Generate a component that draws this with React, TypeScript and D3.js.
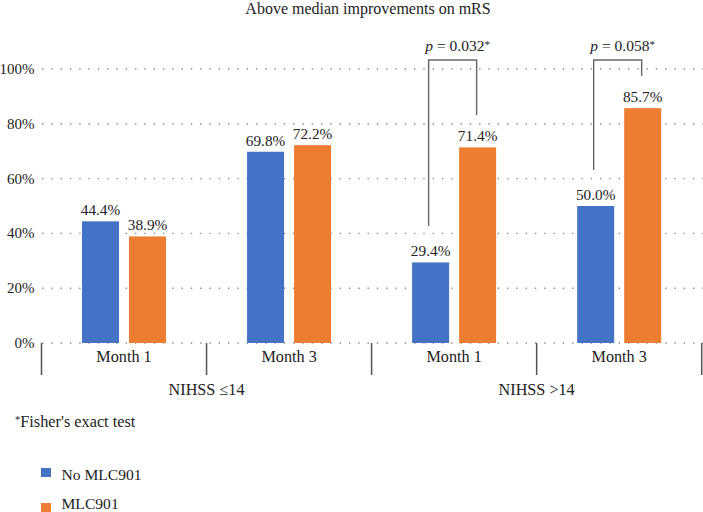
import React from "react";
import * as d3 from "d3";

const categories = ["Month 1", "Month 3", "Month 1", "Month 3"];
const groups = ["NIHSS \u226414", "NIHSS >14"];
const seriesNames = ["No MLC901", "MLC901"];
const noMLC = [44.4, 69.8, 29.4, 50.0];
const withMLC = [38.9, 72.2, 71.4, 85.7];
const yTicks = [0, 20, 40, 60, 80, 100];
// p-value brackets: category index, label, top (%), left foot (%), right foot (%)
const bracketCats = [2, 3];
const bracketLabels = ["0.032", "0.058"];
const bracketTop = [103.3, 103.3];
const bracketLeftFoot = [42.7, 63.1];
const bracketRightFoot = [83.2, 97.4];

const W = 703;
const H = 512;
const FONT = '"Liberation Serif", "DejaVu Serif", serif';
const COLORS = ["#4472C4", "#ED7D31"];
const TEXT = "#222";

export default function App() {
  const x = d3.scaleBand<number>().domain(d3.range(categories.length)).range([41.5, 701.7]).padding(0);
  const inner = d3
    .scaleBand<number>()
    .domain([0, 1])
    .range([0, x.bandwidth()])
    .paddingInner(10 / 47)
    .paddingOuter(0.8617);
  const y = d3.scaleLinear().domain([0, 100]).range([343, 69]);
  const series = [noMLC, withMLC];
  const fmt = (v: number) => v.toFixed(1) + "%";

  return (
    <svg
      width={W}
      height={H}
      style={{ position: "absolute", left: 0, top: 0, background: "#fff", fontFamily: FONT }}
    >
      <text x={368} y={14} textAnchor="middle" fontSize={16} fill={TEXT}>
        Above median improvements on mRS
      </text>
      {yTicks.map((t) => (
        <g key={t}>
          <line
            x1={42}
            x2={W}
            y1={y(t)}
            y2={y(t)}
            stroke="#8a8a8a"
            strokeWidth={1.4}
            strokeDasharray="1.4 7.9"
          />
          <text x={34.5} y={y(t) + 5} textAnchor="end" fontSize={15} fill={TEXT}>
            {t}%
          </text>
        </g>
      ))}
      {series.map((vals, si) =>
        vals.map((v, ci) => {
          const bx = (x(ci) as number) + (inner(si) as number);
          return (
            <g key={`${si}-${ci}`}>
              <rect
                x={bx}
                y={y(v)}
                width={inner.bandwidth()}
                height={y(0) - y(v)}
                fill={COLORS[si]}
              />
              <text
                x={bx + inner.bandwidth() / 2}
                y={y(v) - 6}
                textAnchor="middle"
                fontSize={15.3}
                fill={TEXT}
              >
                {fmt(v)}
              </text>
            </g>
          );
        })
      )}
      {d3.range(categories.length + 1).map((i) => {
        const xx = i < categories.length ? (x(i) as number) : x.range()[1];
        return (
          <line key={i} x1={xx} x2={xx} y1={343} y2={375} stroke="#555" strokeWidth={1.5} />
        );
      })}
      {categories.map((c, i) => (
        <text
          key={i}
          x={(x(i) as number) + x.bandwidth() / 2}
          y={361.5}
          textAnchor="middle"
          fontSize={16.2}
          fill={TEXT}
        >
          {c}
        </text>
      ))}
      {groups.map((g, gi) => (
        <text
          key={g}
          x={x(gi * 2 + 1) as number}
          y={395}
          textAnchor="middle"
          fontSize={16.2}
          fill={TEXT}
        >
          {g}
        </text>
      ))}
      {bracketCats.map((ci, bi) => {
        const xl = (x(ci) as number) + (inner(0) as number) + inner.bandwidth() / 2 - 2;
        const xr = (x(ci) as number) + (inner(1) as number) + inner.bandwidth() / 2 - 1;
        const yt = y(bracketTop[bi]);
        return (
          <g key={bi}>
            <path
              d={`M${xl},${y(bracketLeftFoot[bi])}V${yt}H${xr}V${y(bracketRightFoot[bi])}`}
              fill="none"
              stroke="#666"
              strokeWidth={1.4}
            />
            <text x={(xl + xr) / 2 + 5} y={51} textAnchor="middle" fontSize={15.5} fill={TEXT}>
              <tspan fontStyle="italic">p</tspan>
              <tspan> = {bracketLabels[bi]}</tspan>
              <tspan fontSize={11} dy={-3}>*</tspan>
            </text>
          </g>
        );
      })}
      <text x={15} y={427} fontSize={16.3} fill={TEXT}>
        <tspan fontSize={10.5} dy={-4}>*</tspan>
        <tspan dy={4}>Fisher's exact test</tspan>
      </text>
      {seriesNames.map((s, si) => (
        <g key={s}>
          <rect x={41} y={468 + si * 35} width={10} height={9} fill={COLORS[si]} />
          <text x={61.5} y={480 + si * 28.5} fontSize={15.6} fill={TEXT}>
            {s}
          </text>
        </g>
      ))}
    </svg>
  );
}
